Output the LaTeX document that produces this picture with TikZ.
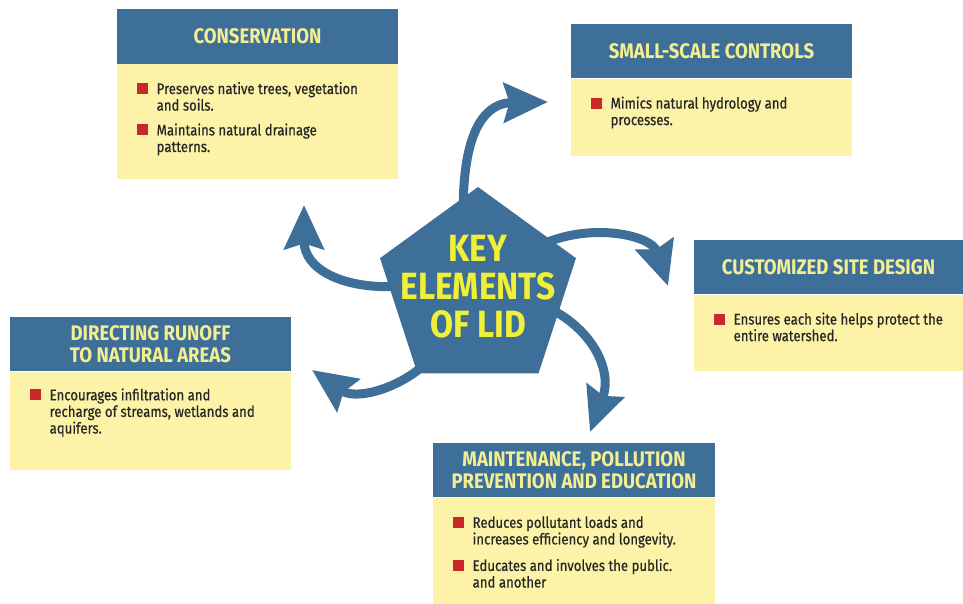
\documentclass[tikz,border=0pt]{standalone}
\usepackage{fontspec}
\setmainfont{Fira Sans}[FakeStretch=0.88]
\newfontfamily\lidbody{Fira Sans}[FakeStretch=0.86, FakeBold=0.5]
\usetikzlibrary{shapes.geometric,arrows.meta}

\definecolor{lidblue}{HTML}{3E6F98}
\definecolor{lidyellow}{HTML}{FCF3A8}
\definecolor{lidhead}{HTML}{F4EE92}
\definecolor{lidkey}{HTML}{F0F036}
\definecolor{lidred}{HTML}{C8282A}
\definecolor{lidtext}{HTML}{262626}

% red square bullet with a hanging block of text
\newcommand{\lidpoint}[1]{\textcolor{lidred}{\rule{7.8pt}{7.8pt}}\hspace{6.2pt}\parbox[t]{5.4cm}{#1}}

\tikzset{
  head/.style={fill=lidblue, text=lidhead, font=\fontsize{15}{15.8}\selectfont\bfseries,
    align=center, minimum width=7.025cm, minimum height=1.35cm, inner sep=0pt},
  panel/.style={fill=lidyellow, minimum width=7.025cm, anchor=north, inner sep=0pt},
  points/.style={anchor=north west, inner sep=0pt, align=left, text=lidtext,
    font=\lidbody\fontsize{10.9}{11.8}\selectfont},
  spoke/.style={lidblue, line width=0.225cm, shorten <=-6pt,
    -{Stealth[length=1.1cm, width=0.98cm, inset=0.14cm]}},
}

\begin{document}
\begin{tikzpicture}[x=0.025cm, y=-0.025cm]

  \useasboundingbox (0,0) rectangle (963,604);

  % Boxes
  \node[head] (cons) at (257.5,36.5) {CONSERVATION};
  \node[panel, minimum height=2.875cm] (consbody) at (cons.south) {};
  \node[points] (constext) at ([xshift=0.5cm, yshift=-0.45cm]consbody.north west)
    {\lidpoint{Preserves native trees, vegetation\\and soils.}\\[8pt]
     \lidpoint{Maintains natural drainage\\patterns.}};

  \node[head] (small) at (711.5,51) {SMALL-SCALE CONTROLS};
  \node[panel, minimum height=1.925cm] (smallbody) at (small.south) {};
  \node[points] (smalltext) at ([xshift=0.5cm, yshift=-0.45cm]smallbody.north west)
    {\lidpoint{Mimics natural hydrology and\\processes.}};

  \node[head, minimum width=6.725cm] (site) at (828.5,267) {CUSTOMIZED SITE DESIGN};
  \node[panel, minimum width=6.725cm, minimum height=1.9cm] (sitebody) at (site.south) {};
  \node[points] (sitetext) at ([xshift=0.5cm, yshift=-0.45cm]sitebody.north west)
    {\lidpoint{Ensures each site helps protect the\\entire watershed.}};

  \node[head] (runoff) at (150.5,344) {DIRECTING RUNOFF\\TO NATURAL AREAS};
  \node[panel, minimum height=2.45cm] (runoffbody) at (runoff.south) {};
  \node[points] (runofftext) at ([xshift=0.5cm, yshift=-0.42cm]runoffbody.north west)
    {\lidpoint{Encourages infiltration and\\recharge of streams, wetlands and\\aquifers.}};

  \node[head, minimum width=7.05cm] (maint) at (574,470) {MAINTENANCE, POLLUTION\\PREVENTION AND EDUCATION};
  \node[panel, minimum width=7.05cm, minimum height=2.65cm] (maintbody) at (maint.south) {};
  \node[points] (mainttext) at ([xshift=0.5cm, yshift=-0.47cm]maintbody.north west)
    {\lidpoint{Reduces pollutant loads and\\increases efficiency and longevity.}\\[7pt]
     \lidpoint{Educates and involves the public.\\and another}};

  % Centre
  \node[regular polygon, regular polygon sides=5, minimum size=5.15cm,
    fill=lidblue, inner sep=0pt] (lid) at (478,290) {};

  \coordinate (tsmall) at (548,102);
  \coordinate (tcons) at (304,205);
  \coordinate (tsite) at (668,286);
  \coordinate (trunoff) at (312,370);
  \coordinate (tmaint) at (590,432);

  % Arrows
  \draw[spoke] (lid.99) .. controls (464,125) and (488,103) .. (tsmall);
  \draw[spoke] (lid.178) .. controls (340,289) and (304,268) .. (tcons);
  \draw[spoke] (lid.34) .. controls (595,222) and (652,236) .. (tsite);
  \draw[spoke] (lid.233) .. controls (395,390) and (355,400) .. (trunoff);
  \draw[spoke] (lid.344) .. controls (592,330) and (613,370) .. (tmaint);

  \node[text=lidkey, font=\fontsize{27}{27}\selectfont\bfseries, align=center]
    (lidlabel) at (478,287) {KEY\\ELEMENTS\\OF LID};

\end{tikzpicture}
\end{document}
